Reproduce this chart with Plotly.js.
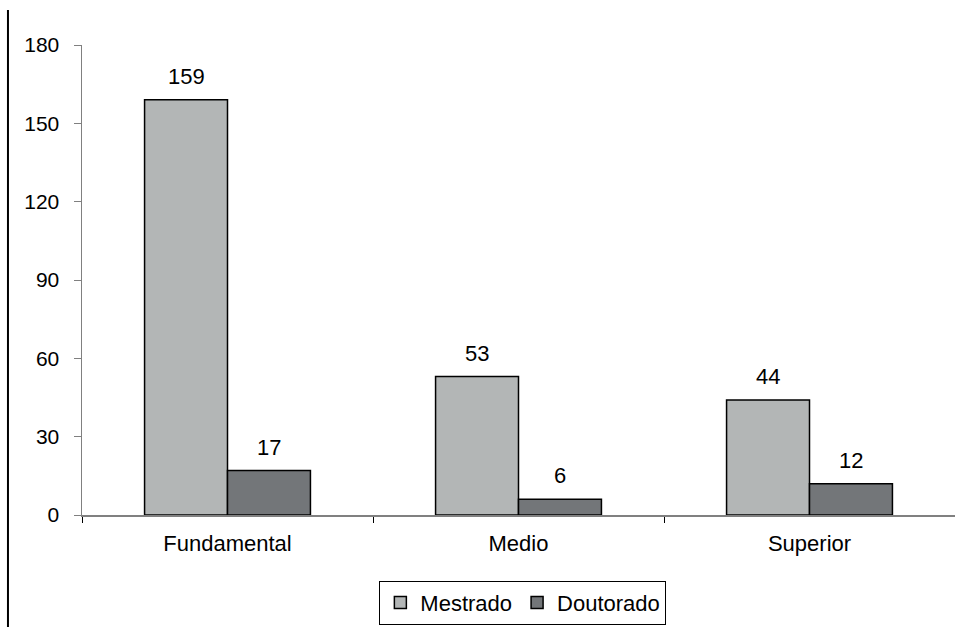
<!DOCTYPE html>
<html>
<head>
<meta charset="utf-8">
<script src="https://cdn.plot.ly/plotly-3.0.1.min.js"></script>
<style>
  html, body { margin: 0; padding: 0; background: #fff; }
  #chart { width: 955px; height: 627px; }
</style>
</head>
<body>
<div id="chart"></div>
<script>
// Education level categories and counts per degree
const categories = ["Fundamental", "Medio", "Superior"];
const mestrado = [159, 53, 44];
const doutorado = [17, 6, 12];
const seriesNames = ["Mestrado", "Doutorado"];
const yTicks = [0, 30, 60, 90, 120, 150, 180];

const font = "Liberation Sans, Arial, sans-serif";

const barStyle = (color) => ({
  color: color,
  line: { color: "#000000", width: 1.5 }
});

const traces = [
  { type: "bar", name: seriesNames[0], x: categories, y: mestrado, marker: barStyle("#b3b6b6") },
  { type: "bar", name: seriesNames[1], x: categories, y: doutorado, marker: barStyle("#737679") }
];

// Value labels above each bar, offset half a bar width left/right of the category centre
const halfBar = 41.5;
const labelAnnotations = [];
[mestrado, doutorado].forEach((vals, s) => {
  vals.forEach((v, i) => {
    labelAnnotations.push({
      xref: "x", yref: "y",
      x: categories[i], y: v,
      xshift: s === 0 ? -halfBar : halfBar,
      yshift: 9,
      yanchor: "bottom",
      text: String(v),
      showarrow: false,
      font: { family: font, size: 22, color: "#000" }
    });
  });
});

const layout = {
  width: 955,
  height: 627,
  margin: { l: 82, r: 0, t: 45, b: 112, pad: 0 },
  paper_bgcolor: "#ffffff",
  plot_bgcolor: "#ffffff",
  font: { family: font, size: 21, color: "#000" },
  barmode: "group",
  bargap: 0.43,
  bargroupgap: 0,
  showlegend: true,
  legend: {
    orientation: "h",
    x: 0.505,
    xanchor: "center",
    y: -0.14,
    yanchor: "top",
    bordercolor: "#000000",
    borderwidth: 1,
    font: { family: font, size: 22, color: "#000" },
    itemwidth: 30,
    traceorder: "normal"
  },
  xaxis: {
    type: "category",
    showgrid: false,
    zeroline: false,
    showline: true,
    linecolor: "#808080",
    linewidth: 1.5,
    ticks: "outside",
    tickson: "boundaries",
    ticklen: 6,
    tickcolor: "#000",
    tickfont: { family: font, size: 22, color: "#000" },
    ticklabelstandoff: 8
  },
  yaxis: {
    range: [0, 180],
    tickvals: yTicks,
    showgrid: false,
    zeroline: false,
    showline: true,
    linecolor: "#808080",
    linewidth: 1.5,
    ticks: "outside",
    ticklen: 7,
    tickcolor: "#808080",
    tickfont: { family: font, size: 21, color: "#000" },
    ticklabelstandoff: 10
  },
  annotations: labelAnnotations,
  shapes: [
    {
      type: "line",
      xref: "paper",
      yref: "paper",
      x0: -0.0848, x1: -0.0848,
      y0: 1.0745, y1: -0.24,
      line: { color: "#000000", width: 2 }
    }
  ]
};

Plotly.newPlot("chart", traces, layout, { displayModeBar: false, staticPlot: true });
</script>
</body>
</html>
